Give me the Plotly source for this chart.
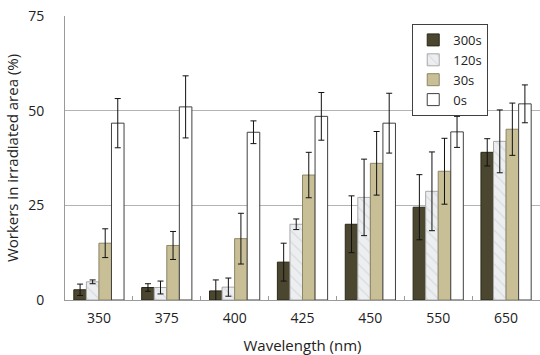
import plotly.graph_objects as go

categories = ["350", "375", "400", "425", "450", "550", "650"]
series_names = ["300s", "120s", "30s", "0s"]
v300 = [2.7, 3.3, 2.4, 10.0, 20.0, 24.5, 39.0]
e300 = [1.5, 1.0, 2.9, 5.0, 7.5, 8.6, 3.6]
v120 = [4.8, 3.3, 3.4, 20.0, 27.1, 28.7, 41.9]
e120 = [0.5, 1.7, 2.4, 1.4, 10.1, 10.4, 8.3]
v30 = [15.0, 14.4, 16.2, 33.0, 36.1, 34.0, 45.1]
e30 = [3.8, 3.7, 6.7, 6.0, 8.4, 8.7, 6.9]
v0 = [46.7, 51.0, 44.3, 48.5, 46.7, 44.4, 51.8]
e0 = [6.5, 8.2, 3.0, 6.3, 7.9, 4.1, 5.0]

fig = go.Figure()

styles = [
    dict(color="#4b4630", line=dict(color="#2a2818", width=1)),
    dict(color="#eef0f2", line=dict(color="#a8a8a8", width=1),
         pattern=dict(shape="\\", fgcolor="#c4c8cc", bgcolor="#eceef0", size=8, solidity=0.15)),
    dict(color="#c8bf96", line=dict(color="#8c8566", width=1)),
    dict(color="#ffffff", line=dict(color="#404040", width=1)),
]
vals = [v300, v120, v30, v0]
errs = [e300, e120, e30, e0]
for name, v, e, st in zip(series_names, vals, errs, styles):
    fig.add_trace(go.Bar(
        x=categories, y=v, name=name, marker=st,
        error_y=dict(type="data", array=e, visible=True, color="#111111", thickness=1, width=3),
    ))

font_family = "Open Sans, Noto Sans, sans-serif"
fig.update_layout(
    width=540, height=355,
    margin=dict(l=65, r=0, t=16, b=55, autoexpand=False),
    paper_bgcolor="white", plot_bgcolor="white",
    barmode="group", bargap=0.26, bargroupgap=0,
    font=dict(family=font_family, size=14, color="#222222"),
    showlegend=True,
    legend=dict(
        x=0.731, y=0.972, xanchor="left", yanchor="top",
        bordercolor="#404040", borderwidth=1, bgcolor="white",
        font=dict(size=13, color="#222222"),
        tracegroupgap=0, itemwidth=30,
    ),
    xaxis=dict(
        type="category", showline=True, linecolor="#9a9a9a", linewidth=1,
        ticks="inside", tickson="boundaries", ticklen=4, tickcolor="#9a9a9a",
        showgrid=False, ticklabelstandoff=5, automargin=True,
        title=dict(text="Wavelength (nm)", standoff=15, font=dict(size=15)),
    ),
    yaxis=dict(
        range=[0, 75], dtick=25, tick0=0, showgrid=True, gridcolor="#b4b4b4", gridwidth=1,
        showline=True, linecolor="#9a9a9a", linewidth=1, zeroline=False,
        ticks="", ticklabelstandoff=17, automargin=True,
        title=dict(text="Workers in irradiated area (%)", standoff=5, font=dict(size=15)),
    ),
)

fig.write_html("out.html", config={"displayModeBar": False},
               post_script="document.body.style.margin='0';document.body.style.padding='0';")
